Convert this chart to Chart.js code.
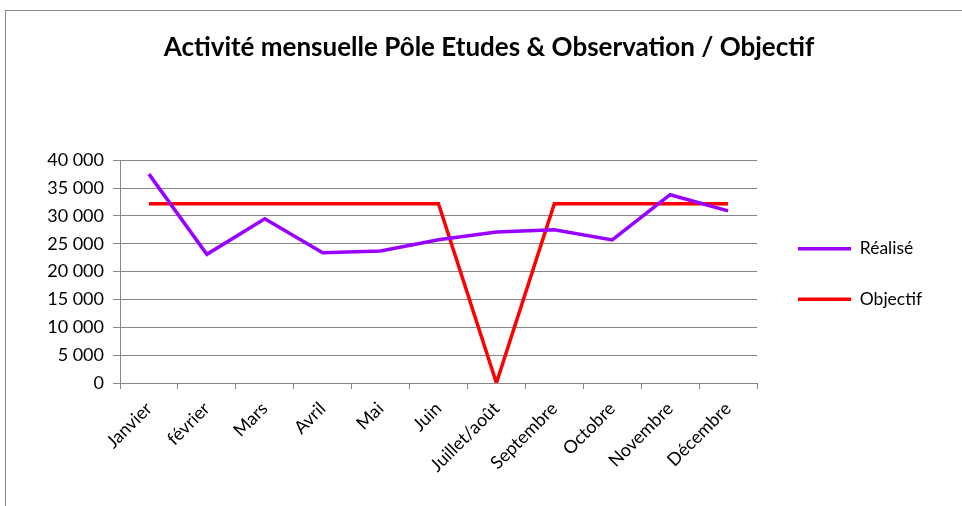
<!DOCTYPE html>
<html>
<head>
<meta charset="utf-8">
<script src="https://cdn.jsdelivr.net/npm/chart.js@4/dist/chart.umd.min.js"></script>
<style>
  html, body { margin: 0; padding: 0; background: #fff; width: 962px; height: 506px; overflow: hidden; }
  #frame { position: absolute; left: 5px; top: 10px; width: 1000px; height: 600px; border: 1px solid #8a8a8a; box-sizing: border-box; }
  #wrap { position: absolute; left: 0; top: 0; width: 962px; height: 506px; }
</style>
</head>
<body>
<div id="frame"></div>
<div id="wrap"><canvas id="c" width="962" height="506"></canvas></div>
<script>
const chartTitle = "Activité mensuelle Pôle Etudes & Observation / Objectif";
const months = ["Janvier", "février", "Mars", "Avril", "Mai", "Juin", "Juillet/août", "Septembre", "Octobre", "Novembre", "Décembre"];
const realise = [37500, 23100, 29500, 23400, 23700, 25700, 27100, 27500, 25700, 33800, 30900];
const objectif = [32200, 32200, 32200, 32200, 32200, 32200, 0, 32200, 32200, 32200, 32200];
const yTicks = [0, 5000, 10000, 15000, 20000, 25000, 30000, 35000, 40000];

const FONT = "Lato, 'Open Sans', sans-serif";
const fmt = v => String(v).replace(/\B(?=(\d{3})+(?!\d))/g, " ");

// Legend placement helper (layout only)
const legendPlace = {
  id: "legendPlace",
  afterInit(chart) {
    const lg = chart.legend;
    if (!lg) return;
    const orig = lg.fit;
    lg.fit = function () { orig.call(this); this.width = 205; };
  },
  afterLayout(chart) {
    const lg = chart.legend;
    if (!lg) return;
    lg.left += 8;
    lg.top += 21;
    lg.bottom += 21;
  }
};

new Chart(document.getElementById("c"), {
  type: "line",
  data: {
    labels: months,
    datasets: [
      { label: "Réalisé", data: realise, borderColor: "#9900FF", backgroundColor: "#9900FF", borderWidth: 3.5, pointRadius: 0, tension: 0 },
      { label: "Objectif", data: objectif, borderColor: "#FF0000", backgroundColor: "#FF0000", borderWidth: 3.5, pointRadius: 0, tension: 0 }
    ]
  },
  plugins: [legendPlace],
  options: {
    responsive: false,
    animation: false,
    layout: { padding: { left: 16, right: 0, top: 0, bottom: 0 } },
    plugins: {
      title: {
        display: true,
        text: chartTitle,
        color: "#000",
        font: { family: FONT, size: 26, weight: "bold" },
        padding: { top: 32, bottom: 97 }
      },
      legend: {
        position: "right",
        align: "center",
        labels: {
          usePointStyle: true,
          pointStyle: "line",
          pointStyleWidth: 53,
          boxHeight: 18,
          padding: 33,
          color: "#000",
          font: { family: FONT, size: 17.5 }
        }
      },
      tooltip: { enabled: false }
    },
    scales: {
      x: {
        offset: true,
        grid: { display: true, offset: true, drawOnChartArea: false, drawTicks: true, tickLength: 6, color: "#868686" },
        border: { color: "#868686", width: 1 },
        ticks: { color: "#000", font: { family: FONT, size: 18 }, minRotation: 45, maxRotation: 45, autoSkip: false, padding: 9 },
        afterFit: s => { s.height = 123; }
      },
      y: {
        min: 0, max: 40000,
        afterBuildTicks: s => { s.ticks = yTicks.map(v => ({ value: v })); },
        grid: { color: "#868686", tickLength: 7 },
        border: { color: "#868686", width: 1 },
        ticks: { color: "#000", font: { family: FONT, size: 18 }, padding: 9, callback: v => fmt(v) },
        afterFit: s => { s.width = 104; }
      }
    }
  }
});
</script>
</body>
</html>
